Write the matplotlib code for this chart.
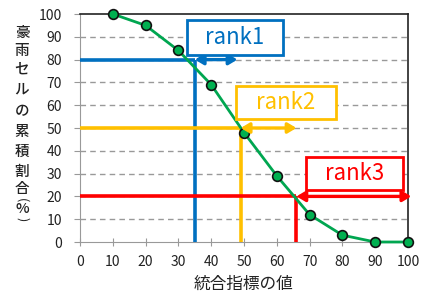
import matplotlib.pyplot as plt
from matplotlib.patches import Rectangle

plt.rcParams['font.family'] = ['Noto Sans CJK JP', 'DejaVu Sans']

# data
index_values = [10, 20, 30, 40, 50, 60, 70, 80, 90, 100]
cum_share = [100, 95, 84, 69, 48, 29, 12, 3, 0, 0]

rank_names = ['rank1', 'rank2', 'rank3']
rank_share = [80, 50, 20]
rank_index = [35, 49, 66]
rank_arrow_end = [48, 66, 101]
rank_colors = ['#0070C0', '#FFC000', '#FF0000']
# box corners (x0, y0, x1, y1) in data units
rank_boxes = [(32.5, 82, 62, 97.5), (47.5, 54, 78, 68.5), (69, 23, 98.5, 37.5)]

ylabel_chars = list('豪雨セルの累積割合') + ['(', '%', ')']
ylabel_y = [33, 51, 70, 90, 111, 132, 152, 172, 189, 200, 209, 219]

fig = plt.figure(figsize=(4.27, 2.98), dpi=100)
ax = fig.add_axes([80 / 427, 56 / 298, 328 / 427, 228 / 298])

ax.set_xlim(0, 100)
ax.set_ylim(0, 100)
ax.set_xticks(range(0, 101, 10))
ax.set_yticks(range(0, 101, 10))
ax.tick_params(labelsize=10, length=4, color='#999999', colors='#222222')
ax.tick_params(axis='y', pad=9)
ax.tick_params(axis='x', direction='inout', length=6, pad=6)

for y in range(10, 100, 10):
    ax.axhline(y, color='#999999', lw=1, ls=(0, (4, 3)), zorder=1)

for s in ['left', 'bottom']:
    ax.spines[s].set_color('#999999')
for s in ['top', 'right']:
    ax.spines[s].set_color('#222222')
    ax.spines[s].set_linewidth(1.2)

for i in range(3):
    c = rank_colors[i]
    ax.plot([0, rank_index[i]], [rank_share[i], rank_share[i]], color=c, lw=2.6, zorder=3,
            solid_capstyle='butt', clip_on=False)
    ax.plot([rank_index[i], rank_index[i]], [0, rank_share[i]], color=c, lw=2.6, zorder=3,
            solid_capstyle='butt')
    ax.annotate('', xy=(rank_arrow_end[i], rank_share[i]), xytext=(rank_index[i], rank_share[i]),
                arrowprops=dict(arrowstyle='<|-|>,head_length=0.5,head_width=0.3', color=c,
                                lw=2.4, shrinkA=0, shrinkB=0),
                annotation_clip=False, zorder=5)
    x0, y0, x1, y1 = rank_boxes[i]
    ax.add_patch(Rectangle((x0, y0), x1 - x0, y1 - y0, facecolor='white', edgecolor=c,
                           lw=2, zorder=6, clip_on=False))
    ax.text((x0 + x1) / 2, (y0 + y1) / 2, rank_names[i], color=c, fontsize=16,
            ha='center', va='center', zorder=7)

ax.plot(index_values, cum_share, color='#00A650', lw=2, marker='o', markersize=7,
        markerfacecolor='#00B050', markeredgecolor='#111111', markeredgewidth=1.2,
        zorder=4, clip_on=False)

for ch, y in zip(ylabel_chars, ylabel_y):
    if ch in '()':
        fig.text(22 / 427, 1 - y / 298, ch, fontsize=9, rotation=-90, ha='center', va='center',
                 color='#222222')
    else:
        fig.text(22 / 427, 1 - y / 298, ch, fontsize=10.5, fontweight='medium', ha='center',
                 va='center', color='#222222')

fig.text(244 / 427, 1 - 284 / 298, '統合指標の値', fontsize=12, ha='center', va='center',
         color='#222222')

fig.savefig('out.png', dpi=100)
